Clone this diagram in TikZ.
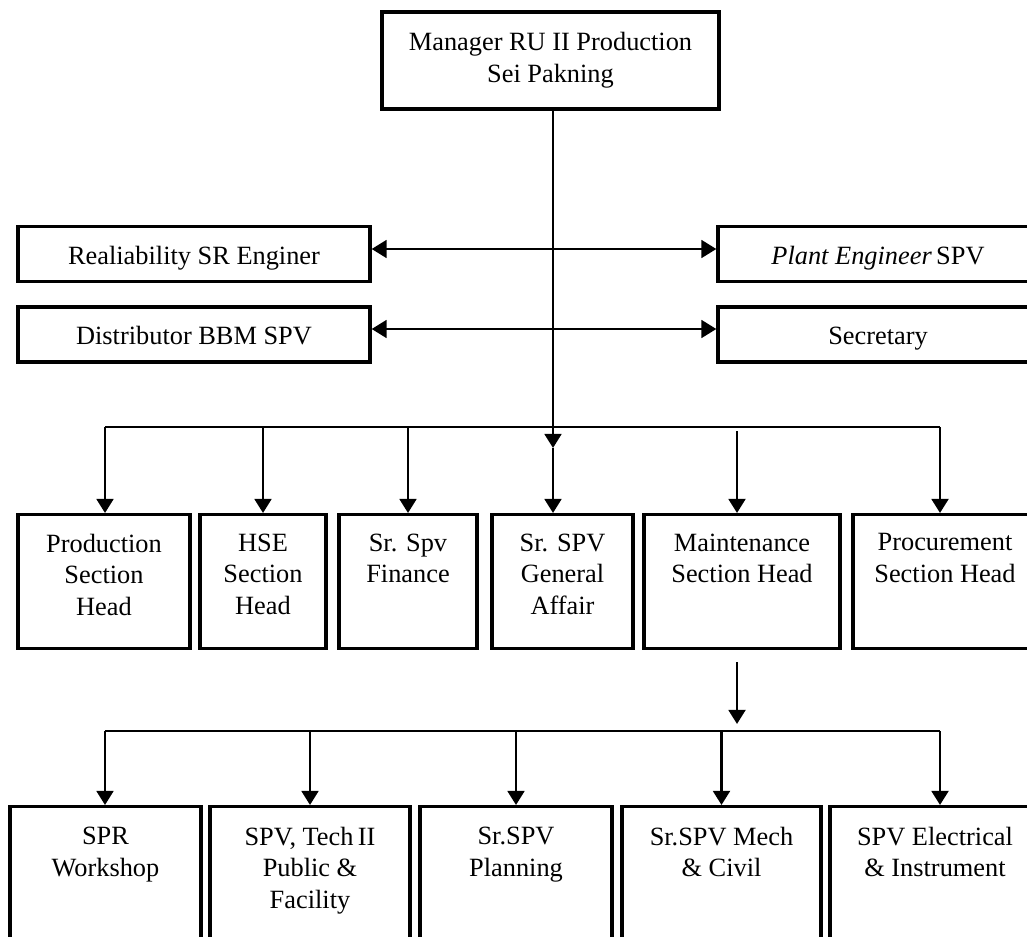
\documentclass[tikz,border=0pt]{standalone}
\usepackage{fontspec}
\setmainfont{Liberation Serif}
\usetikzlibrary{arrows.meta}

\begin{document}
\begin{tikzpicture}[x=0.02cm, y=-0.02cm,
        box/.style={draw, line width=1.9pt, align=center, inner sep=0pt, font=\fontsize{15}{18.1}\selectfont},
        side/.style={box, minimum height=1.1cm, text height=14pt, text depth=2.3pt},
        lab/.style={anchor=north, align=center, inner sep=0pt, font=\fontsize{15}{18.1}\selectfont},
        unit/.style={box, anchor=north, minimum height=2.68cm, label={[lab, yshift=-11.6pt]north:#1}},
        sub/.style={box, anchor=north, minimum height=3.6cm, label={[lab, yshift=-12.2pt]north:#1}},
        arr/.style={line width=1.6pt, -{Triangle[length=8pt,width=9.5pt]}},
        both/.style={line width=1.6pt, {Triangle[length=8.5pt,width=10pt]}-{Triangle[length=8.5pt,width=10pt]}},
        bus/.style={line width=0.9pt}]
        \useasboundingbox (0,0) rectangle (1027,936);
        \clip (0,0) rectangle (1027,936);

        \node[box, minimum width=6.74cm, minimum height=1.94cm](mgr) at (550.5,60.5) {Manager RU II Production\\Sei Pakning};
        \node[side, minimum width=7.04cm](rel) at (194,254) {Realiability SR Enginer};
        \node[side, minimum width=7.04cm](dist) at (194,334.5) {Distributor BBM SPV};
        \node[side, minimum width=6.4cm](plant) at (878,254) {\textit{Plant Engineer}\,SPV};
        \node[side, minimum width=6.4cm](sec) at (878,334.5) {Secretary};

        \node[unit={Production\\Section\\Head}, minimum width=3.44cm](prod) at (104,513) {};
        \node[unit={HSE\\Section\\Head}, minimum width=2.52cm](hse) at (263,513) {};
        \node[unit={Sr. Spv\\Finance}, minimum width=2.76cm](fin) at (408,513) {};
        \node[unit={Sr. SPV\\General\\Affair}, minimum width=2.82cm](ga) at (562.5,513) {};
        \node[unit={Maintenance\\Section Head}, minimum width=3.92cm](mnt) at (742,513) {};
        \node[unit={Procurement\\Section Head}, minimum width=3.68cm](proc) at (945,513) {};

        \node[sub={SPR\\Workshop}, minimum width=3.82cm](spr) at (105.5,805) {};
        \node[sub={SPV, Tech\,II\\Public \&\\Facility}, minimum width=4cm](tech) at (310,805) {};
        \node[sub={Sr.SPV\\Planning}, minimum width=3.84cm](plan) at (516,805) {};
        \node[sub={Sr.SPV Mech\\\& Civil}, minimum width=3.98cm](mech) at (721.5,805) {};
        \node[sub={SPV Electrical\\\& Instrument}, minimum width=4.2cm](elec) at (935,805) {};

        \coordinate(j1) at (553,249);
        \coordinate(j2) at (553,329);
        \coordinate(mid) at (553,448);
        \coordinate(b1) at (105,427);
        \coordinate(b2) at (940,427);
        \coordinate(m1) at (737,431);
        \coordinate(m2) at (737,662);
        \coordinate(m3) at (737,724);
        \coordinate(c1) at (105,731);
        \coordinate(c2) at (940,731);

        \draw[both](rel.east |- j1)--(plant.west |- j1);
        \draw[both](dist.east |- j2)--(sec.west |- j2);
        \draw[arr](mgr.south -| mid)--(mid);
        \draw[arr](mid)--(mid |- ga.north);
        \draw[bus](b1)--(b2);
        \draw[arr](b1)--(b1 |- prod.north);
        \draw[arr](b1 -| hse.north)--(hse.north);
        \draw[arr](b1 -| fin.north)--(fin.north);
        \draw[arr](b2)--(b2 |- proc.north);
        \draw[arr](m1)--(m1 |- mnt.north);
        \draw[arr](m2)--(m3);
        \draw[bus](c1)--(c2);
        \draw[arr](c1)--(c1 |- spr.north);
        \draw[arr](c1 -| tech.north)--(tech.north);
        \draw[arr](c1 -| plan.north)--(plan.north);
        \draw[arr](c1 -| mech.north)--(mech.north);
        \draw[arr](c2)--(c2 |- elec.north);
\end{tikzpicture}
\end{document}
